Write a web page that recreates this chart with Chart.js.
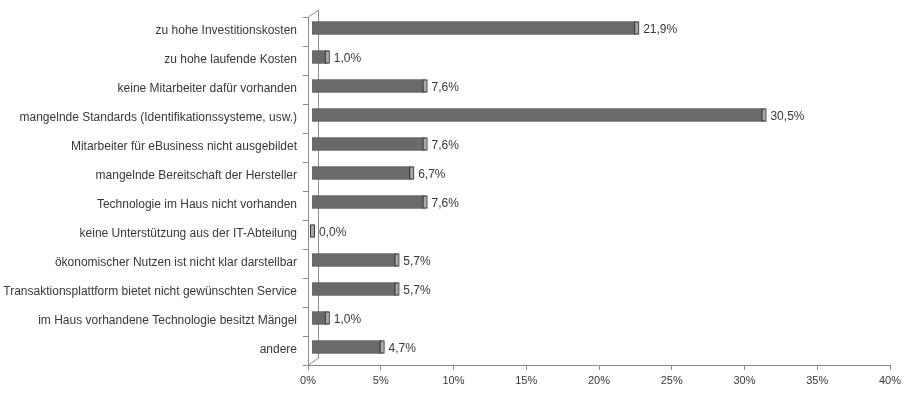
<!DOCTYPE html>
<html>
<head>
<meta charset="utf-8">
<script src="https://cdn.jsdelivr.net/npm/chart.js@4/dist/chart.umd.min.js"></script>
<style>
html,body{margin:0;padding:0;background:#fff;}
#wrap{width:910px;height:393px;}
</style>
</head>
<body>
<div id="wrap"><canvas id="c" width="910" height="393"></canvas></div>
<script>
const categories = [
  "zu hohe Investitionskosten",
  "zu hohe laufende Kosten",
  "keine Mitarbeiter dafür vorhanden",
  "mangelnde Standards (Identifikationssysteme, usw.)",
  "Mitarbeiter für eBusiness nicht ausgebildet",
  "mangelnde Bereitschaft der Hersteller",
  "Technologie im Haus nicht vorhanden",
  "keine Unterstützung aus der IT-Abteilung",
  "ökonomischer Nutzen ist nicht klar darstellbar",
  "Transaktionsplattform bietet nicht gewünschten Service",
  "im Haus vorhandene Technologie besitzt Mängel",
  "andere"
];
const values = [21.9, 1.0, 7.6, 30.5, 7.6, 6.7, 7.6, 0.0, 5.7, 5.7, 1.0, 4.7];
const xTickMin = 0, xTickMax = 40, xTickStep = 5;

const FONT = "'Liberation Sans', Arial, sans-serif";
const TEXT = '#383838';
const AXIS = '#8c8c8c';

const fmt = v => v.toFixed(1).replace('.', ',') + '%';

// 3D projection: bars live on a plane shifted right/up from the front axes
const depthShiftY = 3.5 / 29;   // in category units
const barPlane = {min: -0.27, max: 39.05};

const deco = {
  id: 'deco',
  beforeDatasetsDraw(chart) {
    const {ctx, chartArea: a} = chart;
    const dx = 10, dy = 7;
    ctx.save();
    ctx.strokeStyle = AXIS;
    ctx.lineWidth = 1;
    ctx.beginPath();
    ctx.moveTo(a.left + dx + 0.5, a.top - dy);
    ctx.lineTo(a.left + dx + 0.5, a.bottom - dy);
    ctx.moveTo(a.left + 0.5, a.top);
    ctx.lineTo(a.left + dx + 0.5, a.top - dy);
    ctx.moveTo(a.left + 0.5, a.bottom);
    ctx.lineTo(a.left + dx + 0.5, a.bottom - dy);
    ctx.stroke();
    ctx.restore();
  },
  afterDatasetsDraw(chart) {
    const {ctx} = chart;
    const meta = chart.getDatasetMeta(0);
    ctx.save();
    meta.data.forEach((bar, i) => {
      const h = bar.height;
      const top = bar.y - h / 2;
      const x = bar.x;
      ctx.fillStyle = '#a8a8a8';
      ctx.fillRect(x - 1, top, 3, h);
      ctx.strokeStyle = '#3c3c3c';
      ctx.lineWidth = 1;
      ctx.strokeRect(x - 1.5, top + 0.5, 4, h - 1);
      ctx.fillStyle = TEXT;
      ctx.font = '12px ' + FONT;
      ctx.textAlign = 'left';
      ctx.textBaseline = 'middle';
      ctx.fillText(fmt(values[i]), x + 7, bar.y + 2);
    });
    ctx.restore();
  }
};

new Chart(document.getElementById('c'), {
  type: 'bar',
  data: {
    labels: categories,
    datasets: [{
      data: values.map((v, i) => ({x: v, y: i})),
      xAxisID: 'xb',
      yAxisID: 'yb',
      backgroundColor: '#6a6a6a',
      borderColor: '#3c3c3c',
      borderWidth: 1,
      borderSkipped: 'left',
      barThickness: 13
    }]
  },
  options: {
    indexAxis: 'y',
    responsive: false,
    animation: false,
    layout: {padding: {top: 17, right: 20, left: 0, bottom: 0}},
    plugins: {legend: {display: false}, tooltip: {enabled: false}},
    scales: {
      x: {
        type: 'linear',
        position: 'bottom',
        min: xTickMin, max: xTickMax,
        ticks: {
          stepSize: xTickStep,
          callback: v => v + '%',
          color: TEXT,
          font: {family: FONT, size: 11},
          padding: 4
        },
        grid: {drawOnChartArea: false, drawTicks: true, tickLength: 5, color: AXIS},
        border: {display: true, color: AXIS},
        afterFit: s => { s.height = 28; }
      },
      xb: {
        type: 'linear', display: false, offset: false,
        min: barPlane.min, max: barPlane.max
      },
      y: {
        type: 'category',
        position: 'left',
        labels: categories,
        offset: true,
        ticks: {
          color: TEXT,
          font: {family: FONT, size: 12},
          padding: 6,
          labelOffset: -1,
          autoSkip: false
        },
        grid: {display: true, drawOnChartArea: false, drawTicks: true, tickLength: 5, color: AXIS, offset: true},
        border: {display: true, color: AXIS},
        afterFit: s => { s.width = 308; }
      },
      yb: {
        type: 'linear', display: false, reverse: true, offset: false,
        grid: {offset: false},
        min: -0.5 + depthShiftY, max: categories.length - 0.5 + depthShiftY
      }
    }
  },
  plugins: [deco]
});
</script>
</body>
</html>
